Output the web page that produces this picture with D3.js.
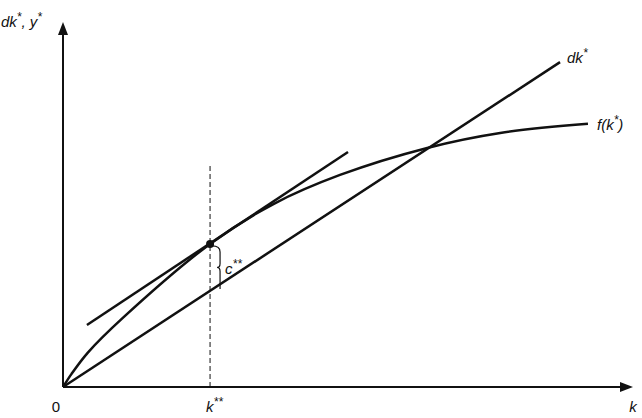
<!DOCTYPE html>
<html>
<head>
<meta charset="utf-8">
<script src="https://cdn.jsdelivr.net/npm/d3@7"></script>
<style>
  body { margin: 0; background: #fff; }
  text { font-family: "Liberation Sans", Arial, sans-serif; font-style: italic; fill: #111; }
</style>
</head>
<body>
<svg id="chart" width="642" height="418"></svg>
<script>
// values (axis units 0..100)
var fK = [0, 1.5, 4.4, 10.4, 25.8, 37.0, 48.6, 63.9, 76.7, 92.1];
var fY = [0, 3.6, 9.5, 18.8, 39.2, 50.2, 58.1, 65.5, 69.6, 72.1];
var dkK = [0, 87.2];
var dkY = [0, 89.0];
var tanK = [4.2, 50.0];
var tanY = [17.0, 64.4];
var kStar = 25.8;      // k**
var guideTop = 60.8;   // top of the dashed line
var yAtStar = 39.2;    // f(k**)
var dkAtStar = 26.3;   // d k**

var svg = d3.select("#chart");
var x = d3.scaleLinear().domain([0, 100]).range([63, 633]);
var y = d3.scaleLinear().domain([0, 100]).range([387, 22]);

var line = d3.line().x(d => x(d[0])).y(d => y(d[1]));

//axes
svg.append("line")
    .attr("x1", x(0)).attr("y1", y(0))
    .attr("x2", x(0)).attr("y2", y(100) + 10)
    .attr("stroke", "#111").attr("stroke-width", 2);
svg.append("line")
    .attr("x1", x(0)).attr("y1", y(0))
    .attr("x2", x(100) - 10).attr("y2", y(0))
    .attr("stroke", "#111").attr("stroke-width", 2);
//arrow heads
svg.append("path")
    .attr("d", "M" + x(0) + "," + y(100) + " l-5,13 l10,0 z")
    .attr("fill", "#111");
svg.append("path")
    .attr("d", "M" + x(100) + "," + y(0) + " l-13,-5 l0,10 z")
    .attr("fill", "#111");

//dashed guide at k**
svg.append("line")
    .attr("x1", x(kStar)).attr("y1", y(0))
    .attr("x2", x(kStar)).attr("y2", y(guideTop))
    .attr("stroke", "#111").attr("stroke-width", 1)
    .attr("stroke-dasharray", "5,3");

//dk* line
svg.append("path")
    .datum(d3.zip(dkK, dkY))
    .attr("d", line)
    .attr("fill", "none").attr("stroke", "#111").attr("stroke-width", 2.5);

//tangent line
svg.append("path")
    .datum(d3.zip(tanK, tanY))
    .attr("d", line)
    .attr("fill", "none").attr("stroke", "#111").attr("stroke-width", 2.5);

//f(k*) curve
svg.append("path")
    .datum(d3.zip(fK, fY))
    .attr("d", d3.line().x(d => x(d[0])).y(d => y(d[1])).curve(d3.curveCatmullRom))
    .attr("fill", "none").attr("stroke", "#111").attr("stroke-width", 2.5);

//golden rule point
svg.append("circle")
    .attr("cx", x(kStar)).attr("cy", y(yAtStar))
    .attr("r", 4).attr("fill", "#111");

//brace for c**
var bx = x(kStar) + 10, y0 = y(yAtStar) + 2, y1 = y(dkAtStar) - 2, ym = (y0 + y1) / 2;
svg.append("path")
    .attr("d", "M" + (x(kStar) + 2) + "," + y0 +
        " Q" + bx + "," + y0 + " " + bx + "," + (y0 + 6) +
        " L" + bx + "," + (ym - 4) +
        " Q" + bx + "," + ym + " " + (bx - 3) + "," + ym +
        " Q" + bx + "," + ym + " " + bx + "," + (ym + 4) +
        " L" + bx + "," + y1)
    .attr("fill", "none").attr("stroke", "#111").attr("stroke-width", 1.2);

//labels
function label(t, px, py, anchor) {
    return svg.append("text")
        .attr("x", px).attr("y", py)
        .attr("font-size", 15)
        .attr("text-anchor", anchor || "start")
        .html(t);
}
var star = "<tspan dy='-6' font-size='12'>", back = "<tspan dy='6'>";
label("dk" + star + "*</tspan>" + back + ", y</tspan>" + star + "*</tspan>", 1, 27);
label("dk" + star + "*</tspan>", x(dkK[1]) + 7, y(dkY[1]) + 1);
label("f(k" + star + "*</tspan>" + back + ")</tspan>", x(92.1) + 9, y(72.1) + 6);
label("c" + star + "**</tspan>", bx + 5, ym + 7);
label("0", x(0) - 7, 412, "middle").style("font-style", "normal");
label("k" + star + "**</tspan>", x(kStar) - 4, 412);
label("k", x(100), 412, "middle");
</script>
</body>
</html>
